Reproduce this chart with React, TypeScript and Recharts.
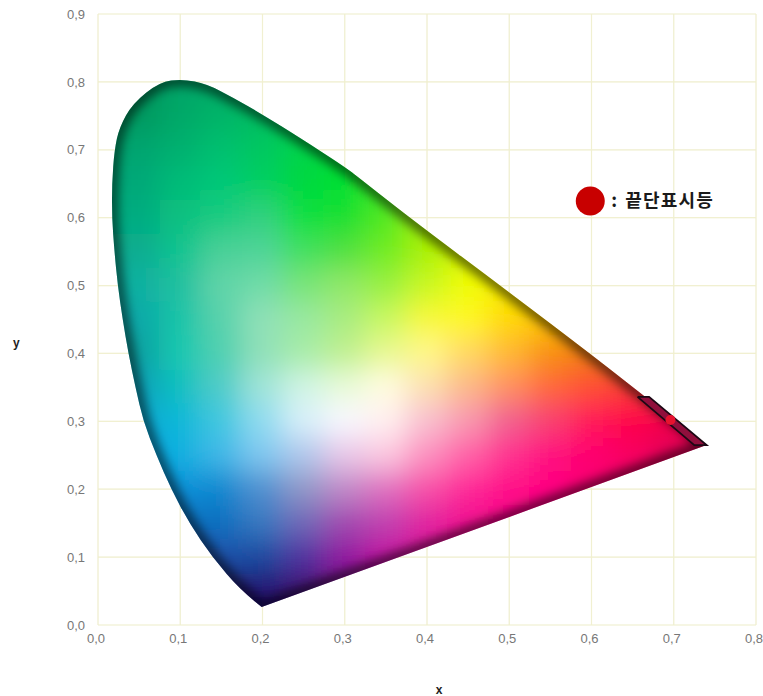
import React from "react";
import { ScatterChart, Scatter, XAxis, YAxis, CartesianGrid } from "recharts";

const xTicks = [0, 0.1, 0.2, 0.3, 0.4, 0.5, 0.6, 0.7, 0.8];
const yTicks = [0, 0.1, 0.2, 0.3, 0.4, 0.5, 0.6, 0.7, 0.8, 0.9];

// outline of the colour region
const locusX = [0.199, 0.174, 0.139, 0.111, 0.089, 0.071, 0.055, 0.0456, 0.037, 0.03, 0.024, 0.02, 0.017, 0.017, 0.02, 0.026, 0.042, 0.075, 0.103, 0.132, 0.164, 0.2, 0.245, 0.3, 0.318, 0.383, 0.5, 0.6, 0.659, 0.74];
const locusY = [0.0265, 0.05, 0.1, 0.15, 0.2, 0.25, 0.3, 0.35, 0.4, 0.45, 0.5, 0.55, 0.6, 0.65, 0.7, 0.733, 0.768, 0.8, 0.804, 0.797, 0.777, 0.752, 0.718, 0.675, 0.658, 0.596, 0.49, 0.398, 0.342, 0.265];

// red-signal chromaticity box and the point inside it
const boxX = [0.656, 0.67, 0.74, 0.725, 0.656];
const boxY = [0.336, 0.336, 0.265, 0.265, 0.336];
const signalPoint = [{ x: 0.696, y: 0.302 }];
const legendPoint = [{ x: 0.5985, y: 0.6245 }];
const legendText = "끝단표시등";

// colour field, sampled every 0.05 on both axes
const fieldX = [0, 0.05, 0.1, 0.15, 0.2, 0.25, 0.3, 0.35, 0.4, 0.45, 0.5, 0.55, 0.6, 0.65, 0.7, 0.75];
const fieldY = [0.85, 0.8, 0.75, 0.7, 0.65, 0.6, 0.55, 0.5, 0.45, 0.4, 0.35, 0.3, 0.25, 0.2, 0.15, 0.1, 0.05, 0];
const fieldColors = [
  "00905c 00905c 00a064 00a864 00b060 00c050 00d040 50d020 a0c800 c8c800 d8c000 e0a000 e08000 e06000 e05000 e04000",
  "00945e 00945e 00a468 00ac68 00b460 00c450 00d440 50d820 a0d000 c8d000 d8c800 e0a800 e08800 e06800 e05800 e04800",
  "00985e 00985e 00a868 00b468 00bc60 00cc50 00d840 50e020 a0e000 c8e000 e0d800 e8b000 e89000 e87000 e86000 e85000",
  "00a470 00a470 00b070 00c070 00c860 00d448 00dc30 40e020 98e800 c8e800 e8e000 f0b800 f09800 f07800 f06800 f05800",
  "00a878 00a878 00bc78 00c878 00d060 00d840 00e030 30e820 88ec00 c0f000 e8e800 f0c000 f0a000 f08000 f07000 f06000",
  "00ac80 00ac80 08c080 18cc80 30d080 10e040 18e030 50e820 a0f000 d0f000 ece800 f0c800 f0a800 f08800 f07000 f06000",
  "08ac90 08ac90 10c490 48d098 50d498 40e060 50e040 70ec20 a8f000 d8f400 f0f000 f4d800 f0b000 e89000 e87000 e86000",
  "10b0a0 10b0a0 20c0a0 60d4a8 70dca8 78e478 90e868 98f040 c8f820 f0fc00 f8e800 f8d000 f0b000 e09000 e07000 e06000",
  "10a8a8 10a8a8 18c4a8 58d2ac 90e0b8 98e8a0 a8ec80 c8f860 f8f838 fff820 ffd800 ffc000 ffa000 f88800 f07000 e86000",
  "08a0a0 08a0a0 18c8b0 50d0b0 90e0b8 a8eca8 c0f090 e8f890 fff888 ffd860 ffb830 f89010 f07808 e86008 e05010 d84010",
  "08a0b8 08a0b8 10c0c0 50ccc8 a0e4d8 d0f4e4 e8fad8 fffce0 fce0b0 fcb888 ff9060 ff6838 ff5030 f83830 e82038 e01838",
  "08a8d0 08a8d0 10b8d8 40c8e0 90dcf0 d8f0fa f8f8ff fff0f0 f8c0d0 f898b0 f06090 f84070 ff1858 ff0048 f00048 e00040",
  "08a0e0 08a0e0 10b0e0 40b8e8 80c8f0 b0c8ec e8c8e8 fcc8e0 fc90c0 ff60a8 ff3090 ff1080 ff0070 f80060 e00058 d00050",
  "0890d8 0890d8 0890d8 1088d0 5090d0 9098c8 c088c8 e070c0 f850a8 ff2898 ff1088 ff0080 f80070 e80068 d00058 c00050",
  "1070c0 1070c0 1070c0 1070c0 3878c0 7068b8 a048b0 c040b0 e020a0 f01090 f80088 f00080 e00070 d00060 c00050 b00048",
  "1c50a8 1c50a8 1c50a8 1c50a8 1c4aa0 5030a0 9018a0 c010a0 d80898 e80088 e80080 e00070 d00060 c00058 b00050 a00048",
  "200870 200870 200870 200870 200870 400870 700880 a00888 c00080 d00078 d00070 c00060 b00058 a00050 900048 800040",
  "180868 180868 180868 180868 180868 300868 580878 800880 a00078 b00070 b00068 a00058 900050 800048 700040 600038",
].map((row) => row.split(" ").map((c) => "#" + c));

const toPoints = (xs: number[], ys: number[]) => xs.map((x, i) => ({ x, y: ys[i] }));
const locusData = toPoints(locusX, locusY);
const boxData = toPoints(boxX, boxY);
const fieldData = fieldY.flatMap((y, r) => fieldX.map((x, c) => ({ x, y, color: fieldColors[r][c] })));

const formatTick = (v: number) => v.toFixed(1).replace(".", ",");
const tickStyle = { fontFamily: "'Liberation Sans', sans-serif", fontSize: 13, fill: "#777", dx: -2 };
const axisTitle = { fontFamily: "'Liberation Sans', sans-serif", fontSize: 12, fontWeight: 700, fill: "#222" };

function FieldCell(props: any) {
  const { cx, cy, payload } = props;
  return <rect x={cx - 21} y={cy - 18} width={42} height={36} fill={payload.color} />;
}

// smooth the outline between its two sharp corners
function locusPath(points: any[]) {
  let d = `M${points[0].x},${points[0].y}`;
  for (let i = 1; i < points.length - 1; i++) {
    const next = points[i + 1];
    const mx = i === points.length - 2 ? next.x : (points[i].x + next.x) / 2;
    const my = i === points.length - 2 ? next.y : (points[i].y + next.y) / 2;
    d += ` Q${points[i].x},${points[i].y} ${mx},${my}`;
  }
  return d + " Z";
}

// defines the clip used by the field and darkens the rim of the region
function LocusEdge({ points }: any) {
  if (!points || !points.length) return null;
  const d = locusPath(points);
  return (
    <g>
      <defs>
        <clipPath id="locusClip">
          <path d={d} />
        </clipPath>
        <filter id="fieldBlur" x="-10%" y="-10%" width="120%" height="120%">
          <feGaussianBlur stdDeviation="14" />
        </filter>
        <filter id="edgeBlur" x="-10%" y="-10%" width="120%" height="120%">
          <feGaussianBlur stdDeviation="6" />
        </filter>
      </defs>
      <g clipPath="url(#locusClip)">
        <path d={d} fill="none" stroke="#000" strokeOpacity={0.72} strokeWidth={10} filter="url(#edgeBlur)" />
      </g>
    </g>
  );
}

const SignalDot = (props: any) => <circle cx={props.cx} cy={props.cy} r={5} fill="#e8122e" />;

function LegendMark(props: any) {
  return (
    <g>
      <circle cx={props.cx} cy={props.cy} r={14.5} fill="#c80000" />
      <text y={props.cy + 6} fontFamily="'Noto Sans CJK KR', sans-serif" fontSize={18} fontWeight={700} fill="#1a1a1a">
        <tspan x={props.cx + 21}>:</tspan>
        <tspan x={props.cx + 35} letterSpacing={1.2}>
          {legendText}
        </tspan>
      </text>
    </g>
  );
}

const NoMark = () => null;

export default function App() {
  return (
    <div style={{ position: "absolute", left: 0, top: 0 }}>
      <style>{`.gamut-field{filter:url(#fieldBlur);clip-path:url(#locusClip)}`}</style>
      <ScatterChart width={763} height={696} margin={{ top: 14, right: 7, bottom: 0, left: 0 }}>
        <CartesianGrid stroke="#f0efd4" strokeWidth={1.2} horizontalValues={yTicks} verticalValues={xTicks} />
        <XAxis
          type="number"
          dataKey="x"
          domain={[0, 0.8]}
          ticks={xTicks}
          tickFormatter={formatTick}
          interval={0}
          height={71}
          axisLine={false}
          tickLine={false}
          tickSize={0}
          tickMargin={9}
          tick={tickStyle}
          label={{ value: "x", position: "insideBottom", offset: 0, dx: 12, dy: -2, style: axisTitle }}
        />
        <YAxis
          type="number"
          dataKey="y"
          domain={[0, 0.9]}
          ticks={yTicks}
          tickFormatter={formatTick}
          interval={0}
          width={98}
          axisLine={false}
          tickLine={false}
          tickSize={0}
          tickMargin={13}
          tick={{ ...tickStyle, dx: 0 }}
          label={{ value: "y", position: "insideLeft", offset: 13, dy: 23, style: axisTitle }}
        />
        <Scatter className="gamut-field" data={fieldData} shape={FieldCell} isAnimationActive={false} />
        <Scatter data={locusData} shape={NoMark} line={<LocusEdge />} lineType="joint" isAnimationActive={false} />
        <CartesianGrid stroke="#f4f2c8" strokeOpacity={0.25} strokeWidth={1.2} horizontalValues={yTicks} verticalValues={xTicks} />
        <Scatter data={boxData} shape={NoMark} line={{ stroke: "#1c0814", strokeWidth: 1.8, fill: "#900f3c" }} lineType="joint" isAnimationActive={false} />
        <Scatter data={signalPoint} shape={SignalDot} isAnimationActive={false} />
        <Scatter data={legendPoint} shape={LegendMark} isAnimationActive={false} />
      </ScatterChart>
    </div>
  );
}
